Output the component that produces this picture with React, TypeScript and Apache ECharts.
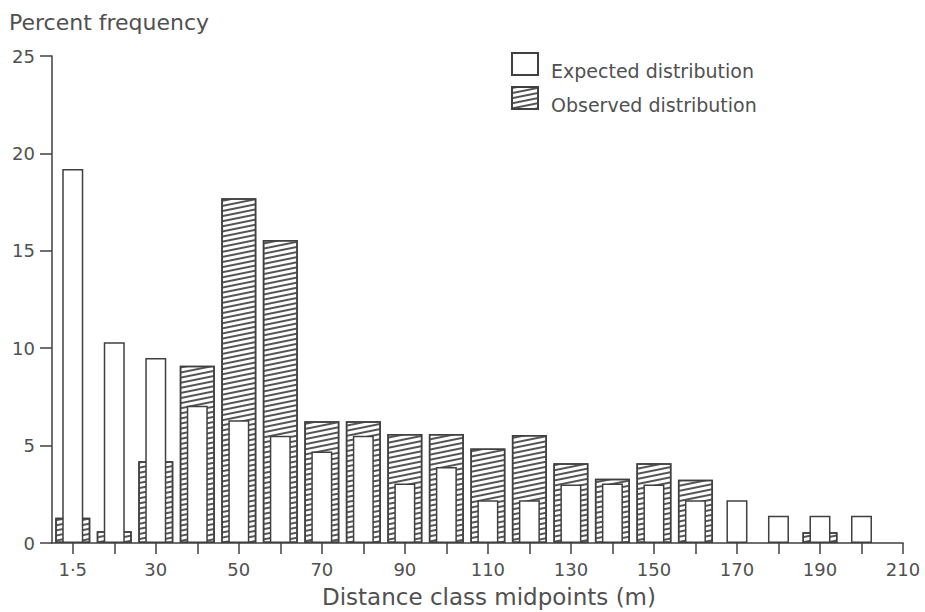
import React, { useEffect, useRef } from "react";
import * as echarts from "echarts";

const categories = ["1·5", "20", "30", "40", "50", "60", "70", "80", "90", "100", "110", "120", "130", "140", "150", "160", "170", "180", "190", "200", "210"];
const expected = [19.2, 10.3, 9.5, 7.05, 6.3, 5.5, 4.7, 5.5, 3.05, 3.9, 2.2, 2.2, 3.0, 3.05, 3.0, 2.2, 2.2, 1.4, 1.4, 1.4, null];
const observed = [1.3, 0.6, 4.2, 9.1, 17.7, 15.55, 6.25, 6.25, 5.6, 5.6, 4.85, 5.55, 4.1, 3.3, 4.1, 3.25, null, null, 0.55, null, null];
const yTicks = [0, 5, 10, 15, 20, 25];

const FONT = "DejaVu Sans";
const TEXT = "#505050";
const LINE = "#404040";

export default function App() {
  const ref = useRef<HTMLDivElement>(null);
  useEffect(() => {
    if (!ref.current) return;
    const chart = echarts.init(ref.current, undefined, { renderer: "svg" });
    const idx = categories.map((_, i) => i);
    const xBase = {
      type: "value" as const,
      min: -0.5,
      max: categories.length - 1,
      splitLine: { show: false },
    };
    chart.setOption({
      animation: false,
      grid: { left: 52, right: 22, top: 56, bottom: 69 },
      legend: {
        orient: "vertical",
        left: 506,
        top: 47,
        icon: "rect",
        itemWidth: 26,
        itemHeight: 22,
        itemGap: 6,
        data: ["Expected distribution", "Observed distribution"],
        formatter: (name: string) => `{a|}{b|${name}}`,
        textStyle: {
          fontFamily: FONT,
          fontSize: 19,
          color: TEXT,
          padding: [0, 0, 0, 8],
          rich: {
            a: { height: 32, width: 0 },
            b: { fontFamily: FONT, fontSize: 19, color: TEXT, lineHeight: 22, verticalAlign: "bottom" },
          },
        },
      },
      xAxis: [
        {
          ...xBase,
          axisLine: { show: true, onZero: false, lineStyle: { color: LINE, width: 1.5 } },
          axisTick: { show: true, length: 11, lineStyle: { color: LINE, width: 1.5 }, customValues: idx },
          axisLabel: {
            show: true,
            margin: 17,
            fontFamily: FONT,
            fontSize: 18,
            color: TEXT,
            customValues: idx.filter((i) => i % 2 === 0),
            formatter: (v: number) => categories[Math.round(v)] ?? "",
          },
        },
        {
          ...xBase,
          show: false,
        },
      ],
      yAxis: {
        type: "value",
        min: 0,
        max: 25,
        interval: 5,
        axisLine: { show: true, onZero: false, lineStyle: { color: LINE, width: 1.5 } },
        axisTick: { show: true, length: 12, lineStyle: { color: LINE, width: 1.5 } },
        axisLabel: {
          fontFamily: FONT,
          fontSize: 18,
          color: TEXT,
          margin: 17,
          customValues: yTicks,
        },
        splitLine: { show: false },
      },
      graphic: [
        {
          type: "text",
          left: 9,
          top: 11,
          style: { text: "Percent frequency", fontFamily: FONT, fontSize: 22, fill: TEXT },
        },
        {
          type: "text",
          x: 489,
          y: 597,
          style: {
            text: "Distance class midpoints (m)",
            fontFamily: FONT,
            fontSize: 23,
            fill: TEXT,
            align: "center",
            verticalAlign: "middle",
          },
        },
      ],
      series: [
        {
          name: "Observed distribution",
          type: "bar",
          xAxisIndex: 1,
          barWidth: 35,
          data: observed.map((v, i) => [i, v]),
          itemStyle: {
            color: "#ffffff",
            borderColor: LINE,
            borderWidth: 1.5,
            decal: {
              symbol: "rect",
              symbolSize: 1,
              color: "#555555",
              dashArrayX: [1, 0],
              dashArrayY: [1.2, 2.8],
              rotation: -0.2,
            },
          },
        },
        {
          name: "Expected distribution",
          type: "bar",
          xAxisIndex: 0,
          barWidth: 21,
          data: expected.map((v, i) => [i, v]),
          itemStyle: {
            color: "#ffffff",
            borderColor: LINE,
            borderWidth: 1.5,
          },
        },
      ],
    });
    return () => chart.dispose();
  }, []);
  return <div ref={ref} style={{ width: 925, height: 612, position: "absolute", left: 0, top: 0 }} />;
}
